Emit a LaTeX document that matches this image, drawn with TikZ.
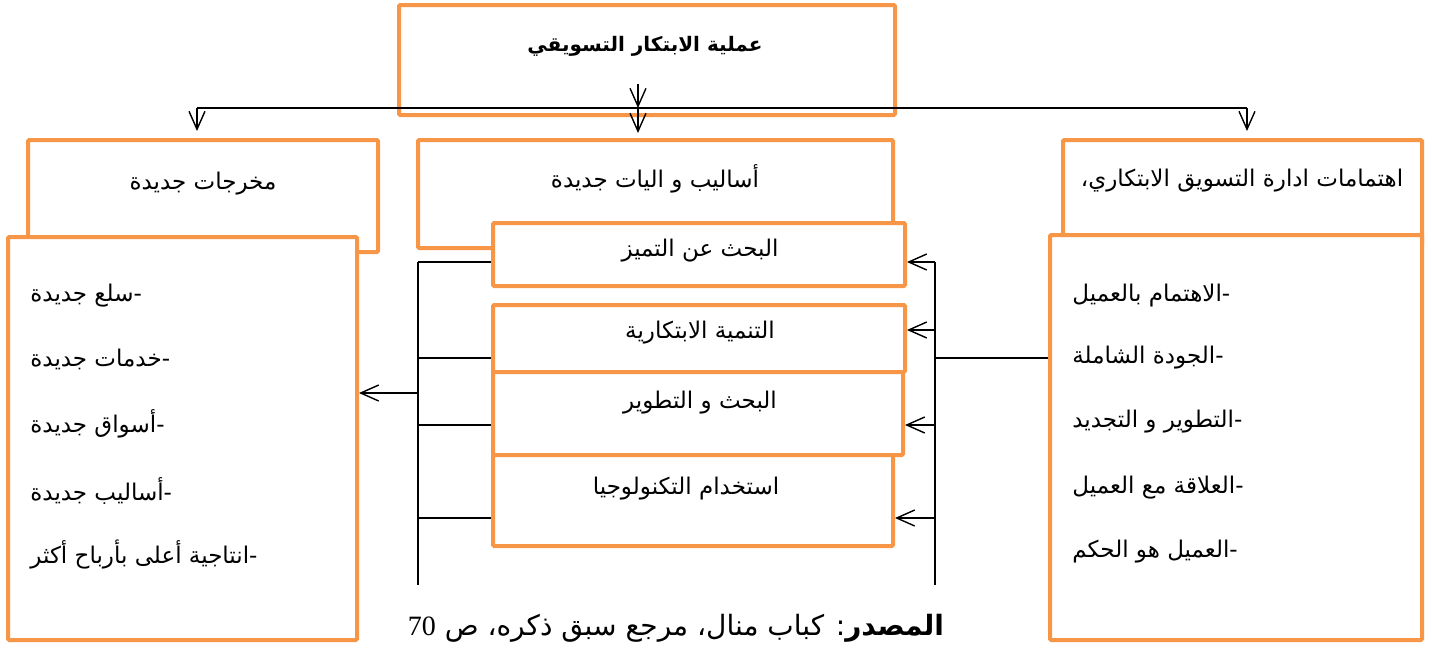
\documentclass[tikz,border=0pt]{standalone}
\usepackage{fontspec}
\setmainfont{Liberation Serif}
\newfontfamily\arabicfont[Script=Arabic]{DejaVu Sans}
\TeXXeTstate=1
\usetikzlibrary{arrows.meta,fit}
\definecolor{boxorange}{HTML}{F79646}
\newcommand\rtltext[1]{\beginR #1\endR}
\newcommand\dashitem[1]{\beginR -\kern0pt #1\endR}
\tikzset{
  obox/.style={draw=boxorange, line width=2pt, fill=white, inner sep=0pt, rounded corners=0.6pt},
  lbl/.style={font=\arabicfont\fontsize{11.5}{13}\selectfont, inner sep=0pt},
  titlelbl/.style={font=\arabicfont\bfseries\fontsize{10}{12}\selectfont, inner sep=0pt},
  item/.style={lbl, anchor=west},
  conn/.style={line width=0.7pt, black},
  arr/.style={conn, -{Straight Barb[length=9pt,width=8pt]}},
}
\begin{document}
\begin{tikzpicture}[x=0.5pt,y=-0.5pt]
\useasboundingbox (0,0) rectangle (1432,649);
% top box
\node[obox, fit={(399,5)(895,115)}] (top) {};
\node[titlelbl] (toptxt) at (645,46) {\rtltext{عملية الابتكار التسويقي}};
% upper boxes
\node[obox, fit={(28,140)(378,252)}] (lu) {};
\node[lbl] (lutxt) at (203,184) {\rtltext{مخرجات جديدة}};
\node[obox, fit={(418,140)(893,248)}] (mu) {};
\node[lbl] (mutxt) at (655,179) {\rtltext{أساليب و اليات جديدة}};
\node[obox, fit={(1063,140)(1422,245)}] (ru) {};
\node[lbl] (rutxt) at (1242,181) {\rtltext{اهتمامات ادارة التسويق الابتكاري،}};
% lower side boxes
\node[obox, fit={(8,237)(357,640)}] (ll) {};
\node[obox, fit={(1050,235)(1422,640)}] (rl) {};
\node[item] (l1) at (30,296) {\dashitem{سلع جديدة}};
\node[item] (l2) at (30,359) {\dashitem{خدمات جديدة}};
\node[item] (l3) at (30,424) {\dashitem{أسواق جديدة}};
\node[item] (l4) at (30,491) {\dashitem{أساليب جديدة}};
\node[item] (l5) at (30,554) {\dashitem{انتاجية أعلى بأرباح أكثر}};
\node[item] (r1) at (1072,296) {\dashitem{الاهتمام بالعميل}};
\node[item] (r2) at (1072,358) {\dashitem{الجودة الشاملة}};
\node[item] (r3) at (1072,422) {\dashitem{التطوير و التجديد}};
\node[item] (r4) at (1072,488) {\dashitem{العلاقة مع العميل}};
\node[item] (r5) at (1072,552) {\dashitem{العميل هو الحكم}};
% centre boxes
\node[obox, fit={(493,223)(905,286)}] (c1) {};
\node[lbl] (c1txt) at (700,251) {\rtltext{البحث عن التميز}};
\node[obox, fit={(493,305)(905,372)}] (c2) {};
\node[lbl] (c2txt) at (700,333) {\rtltext{التنمية الابتكارية}};
\node[obox, fit={(493,372)(903,455)}] (c3) {};
\node[lbl] (c3txt) at (700,403) {\rtltext{البحث و التطوير}};
\node[obox, fit={(493,455)(893,546)}] (c4) {};
\node[lbl] (c4txt) at (686,489) {\rtltext{استخدام التكنولوجيا}};
% top connectors
\coordinate (t1) at (638,84);
\coordinate (bus) at (638,108);
\coordinate (busL) at (197,108);
\coordinate (busR) at (1247,108);
\draw[conn] (busL) -- (busR);
\draw[arr] (t1) -- (bus);
\draw[arr, shorten >=2.5pt] (bus) -- (mu.north -| bus);
\draw[arr, shorten >=3.5pt] (busL) -- (lu.north -| busL);
\draw[arr, shorten >=3.5pt] (busR) -- (ru.north -| busR);
% left bracket
\coordinate (lvT) at (418,262);
\coordinate (lvB) at (418,585);
\draw[conn] (lvT) -- (lvB);
\coordinate (lv1) at (418,262);
\coordinate (lv2) at (418,358);
\coordinate (lv3) at (418,425);
\coordinate (lv4) at (418,518);
\coordinate (lva) at (418,393);
\draw[conn] (lv1) -- (lv1 -| c1.west);
\draw[conn] (lv2) -- (lv2 -| c2.west);
\draw[conn] (lv3) -- (lv3 -| c3.west);
\draw[conn] (lv4) -- (lv4 -| c4.west);
\draw[arr] (lva) -- (lva -| ll.east);
% right bracket
\coordinate (rvT) at (935,262);
\coordinate (rvB) at (935,585);
\draw[conn] (rvT) -- (rvB);
\coordinate (rv1) at (935,262);
\coordinate (rv2) at (935,330);
\coordinate (rv3) at (935,425);
\coordinate (rv4) at (935,518);
\coordinate (rvh) at (935,358);
\draw[arr] (rv1) -- (rv1 -| c1.east);
\draw[arr] (rv2) -- (rv2 -| c2.east);
\draw[arr] (rv3) -- (rv3 -| c3.east);
\draw[arr] (rv4) -- (rv4 -| c4.east);
\draw[conn] (rvh) -- (rvh -| rl.west);
% source
\node[inner sep=0pt, font=\arabicfont\fontsize{14}{16}\selectfont] (src) at (676,628) {\rtltext{\textbf{المصدر}: كباب منال، مرجع سبق ذكره، ص \beginL{\rmfamily 70}\endL}};
\end{tikzpicture}
\end{document}
